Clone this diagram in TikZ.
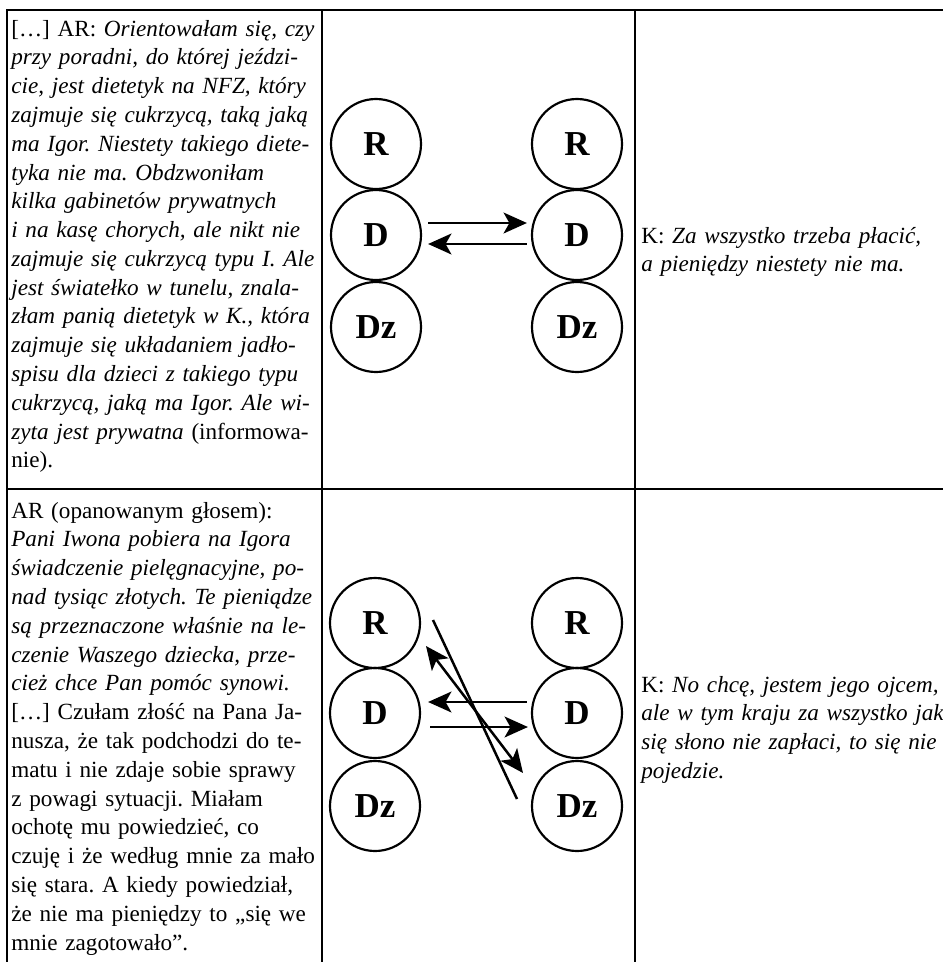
\documentclass[tikz,border=0pt]{standalone}
\usepackage{fontspec}
\setmainfont{Liberation Serif}
\usetikzlibrary{arrows.meta}
\tikzset{>={Stealth[length=14pt,width=12.5pt,inset=3.5pt]}}

\begin{document}
\frenchspacing
\begin{tikzpicture}[x=0.6pt, y=-0.6pt]
\tikzset{person/.style={draw, circle, line width=1.3pt, minimum size=54pt, inner sep=0pt, font=\fontsize{21}{21}\selectfont\bfseries}}
\tikzset{flow/.style={->, line width=1.5pt}}
\tikzset{cell/.style={anchor=base west, inner sep=0pt, align=left, text width=200pt, font=\fontsize{13.9}{17.28}\selectfont}}
\useasboundingbox (0,0) rectangle (943,962);

% table lines
    \draw[line width=1.4pt] (7,962) -- (7,10) -- (943,10);
    \draw[line width=1.4pt] (7,489) -- (943,489);
    \draw[line width=1.4pt] (322,10) -- (322,962);
    \draw[line width=1.4pt] (635,10) -- (635,962);

% first row
    \node[person] (Rl) at (376,144) {R};
    \node[person] (Dl) at (376,235) {D};
    \node[person] (Dzl) at (376,327) {Dz};

    \node[person] (Rr) at (577,144) {R};
    \node[person] (Dr) at (577,235) {D};
    \node[person] (Dzr) at (577,327) {Dz};

    \draw[flow] ([shift={(6,-12)}]Dl.east) -- ([shift={(-4,-12)}]Dr.west);
    \draw[flow] ([shift={(-4,9)}]Dr.west) -- ([shift={(6,9)}]Dl.east);

    \node[cell] (txt) at (11,36) {[…] AR: \itshape Orientowałam się, czy\\
przy poradni, do której jeździ-\\
cie, jest dietetyk na NFZ, który\\
zajmuje się cukrzycą, taką jaką\\
ma Igor. Niestety takiego diete-\\
tyka nie ma. Obdzwoniłam\\
kilka gabinetów prywatnych\\
i na kasę chorych, ale nikt nie\\
zajmuje się cukrzycą typu I. Ale\\
jest światełko w tunelu, znala-\\
złam panią dietetyk w K., która\\
zajmuje się układaniem jadło-\\
spisu dla dzieci z takiego typu\\
cukrzycą, jaką ma Igor. Ale wi-\\
zyta jest prywatna\upshape{} (informowa-\\
nie).};

    \node[cell] (ans) at (641,243) {K: \itshape Za wszystko trzeba płacić,\\
a pieniędzy niestety nie ma.};

% % % % % % % % % % % % % % % % % % %
% second row
    \node[person] (Rl_2) at (375,623) {R};
    \node[person] (Dl_2) at (375,713) {D};
    \node[person] (Dzl_2) at (375,806) {Dz};

    \node[person] (Rr_2) at (577,623) {R};
    \node[person] (Dr_2) at (577,713) {D};
    \node[person] (Dzr_2) at (577,806) {Dz};

    \draw[flow] ([shift={(-4,-11)}]Dr_2.west) -- ([shift={(7,-11)}]Dl_2.east);
    \draw[flow] ([shift={(9,14)}]Dl_2.east) -- ([shift={(-3,14)}]Dr_2.west);
    \draw[line width=1.5pt] ([shift={(58,-3)}]Rl_2.center) -- ([shift={(-60,-7)}]Dzr_2.center);
    \draw[flow, <->] ([shift={(51,23)}]Rl_2.center) -- ([shift={(-54,-33)}]Dzr_2.center);

    \node[cell] (txt_2) at (11,518) {AR (opanowanym głosem):\\
\itshape Pani Iwona pobiera na Igora\\
świadczenie pielęgnacyjne, po-\\
nad tysiąc złotych. Te pieniądze\\
są przeznaczone właśnie na le-\\
czenie Waszego dziecka, prze-\\
cież chce Pan pomóc synowi.\\
\upshape […] Czułam złość na Pana Ja-\\
nusza, że tak podchodzi do te-\\
matu i nie zdaje sobie sprawy\\
z powagi sytuacji. Miałam\\
ochotę mu powiedzieć, co\\
czuję i że według mnie za mało\\
się stara. A kiedy powiedział,\\
że nie ma pieniędzy to „się we\\
mnie zagotowało”.};

    \node[cell] (ans_2) at (641,692) {K: \itshape No chcę, jestem jego ojcem,\\
ale w tym kraju za wszystko jak\\
się słono nie zapłaci, to się nie\\
pojedzie.};
\end{tikzpicture}
\end{document}
